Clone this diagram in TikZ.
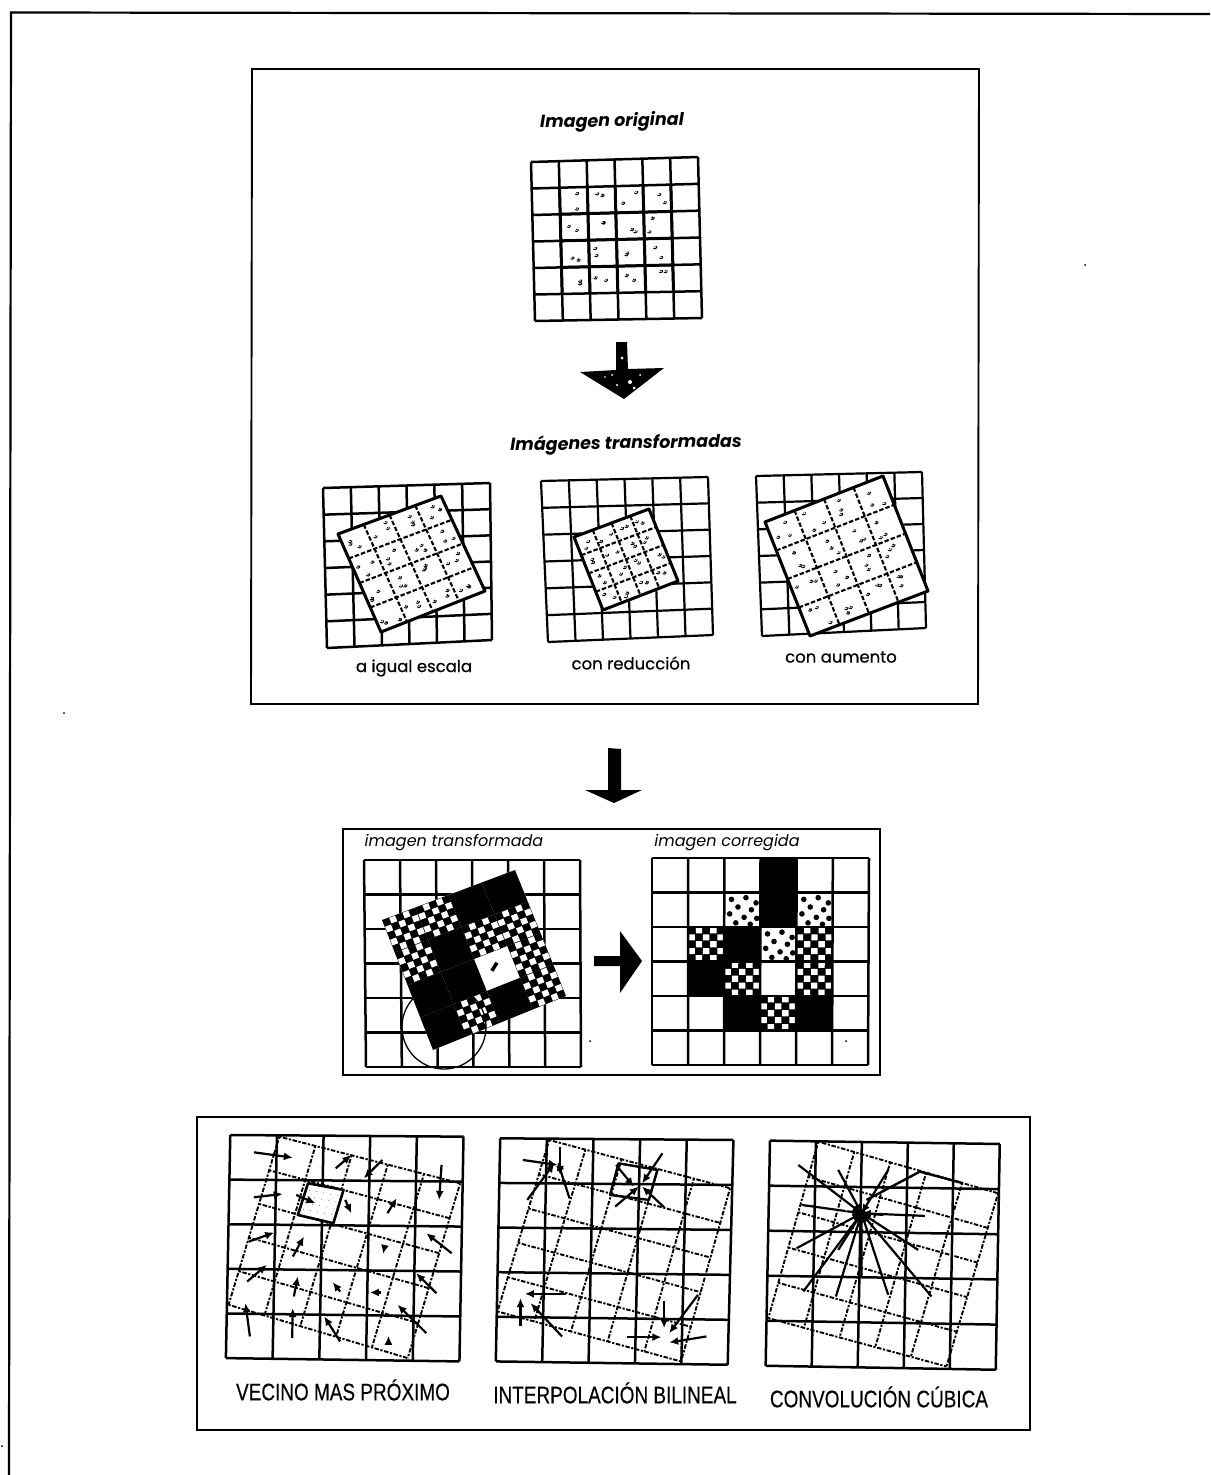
\documentclass[tikz,border=0pt]{standalone}
\usepackage{fontspec}
\setmainfont[FakeBold=0.35]{Liberation Sans}
\newfontfamily\geo[FakeBold=0.5]{Poppins}
\newfontfamily\geoplain{Poppins}
\usetikzlibrary{arrows.meta}
\tikzset{
  frameline/.style={line width=1.9pt,black},
  gridline/.style={line width=2.5pt,black},
  thingrid/.style={line width=2.2pt,black},
  dashline/.style={line width=2.1pt,black,dash pattern=on 4.5pt off 2pt},
  dotline/.style={line width=1.9pt,black,dash pattern=on 2.2pt off 1.6pt on 4.5pt off 1.6pt},
  boldedge/.style={line width=3pt,black,line join=round},
  mv/.style={line width=2.2pt,black,-{Latex[length=9pt,width=8pt]}},
  plainline/.style={line width=2.4pt,black},
  headtext/.style={font=\geoplain\bfseries\itshape\fontsize{17.5}{17.5}\selectfont,inner sep=0pt},
  subtext/.style={font=\geo\fontsize{16.5}{16.5}\selectfont,inner sep=0pt},
  italtext/.style={font=\geoplain\itshape\fontsize{16}{16}\selectfont,inner sep=0pt},
  captext/.style={font=\fontsize{24}{24}\selectfont,inner sep=0pt,xscale=.79},
}
% bilinear map of the current quadrilateral (A top left, B top right, C bottom right, D bottom left)
\def\setquad#1#2#3#4#5#6#7#8{\def\qax{#1}\def\qay{#2}\def\qbx{#3}\def\qby{#4}\def\qcx{#5}\def\qcy{#6}\def\qdx{#7}\def\qdy{#8}}
\def\Q#1#2{({(1-(#2))*((1-(#1))*\qax+(#1)*\qbx)+(#2)*((1-(#1))*\qdx+(#1)*\qcx)},{(1-(#2))*((1-(#1))*\qay+(#1)*\qby)+(#2)*((1-(#1))*\qdy+(#1)*\qcy)})}
% \netlines{cols}{rows}{style}
\newcommand{\netlines}[3]{%
  \foreach \ii in {0,...,#1}{\draw[#3] \Q{\ii/#1}{0} -- \Q{\ii/#1}{1};}%
  \foreach \jj in {0,...,#2}{\draw[#3] \Q{0}{\jj/#2} -- \Q{1}{\jj/#2};}}
% cell (c,r) of an n x n net, checker
\newcommand{\checkcell}[3]{%
  \pgfmathsetmacro{\cl}{#1/#3}\pgfmathsetmacro{\rt}{#2/#3}\pgfmathsetmacro{\st}{1/(#3*5)}%
  \fill[black] \Q{\cl}{\rt} -- \Q{\cl+5*\st}{\rt} -- \Q{\cl+5*\st}{\rt+5*\st} -- \Q{\cl}{\rt+5*\st} -- cycle;
  \foreach \pa in {0,...,4}{\foreach \pb in {0,...,4}{%
    \pgfmathparse{int(mod(\pa+\pb,2))}%
    \ifnum\pgfmathresult=1
      \fill[white] \Q{\cl+(\pa+.06)*\st}{\rt+(\pb+.06)*\st} -- \Q{\cl+(\pa+.94)*\st}{\rt+(\pb+.06)*\st} -- \Q{\cl+(\pa+.94)*\st}{\rt+(\pb+.94)*\st} -- \Q{\cl+(\pa+.06)*\st}{\rt+(\pb+.94)*\st} -- cycle;
    \fi}}}
\newcommand{\solidcell}[3]{%
  \pgfmathsetmacro{\cl}{#1/#3}\pgfmathsetmacro{\rt}{#2/#3}\pgfmathsetmacro{\st}{1/#3}%
  \fill[black] \Q{\cl}{\rt} -- \Q{\cl+\st}{\rt} -- \Q{\cl+\st}{\rt+\st} -- \Q{\cl}{\rt+\st} -- cycle;}
\newcommand{\sparsecell}[3]{%
  \pgfmathsetmacro{\cl}{#1/#3}\pgfmathsetmacro{\rt}{#2/#3}\pgfmathsetmacro{\st}{1/#3}%
  \foreach \pa/\pb in {.2/.2,.6/.15,.88/.3,.38/.42,.75/.5,.15/.62,.55/.72,.9/.75,.32/.88,.72/.92}{%
    \fill[black] \Q{\cl+\pa*\st}{\rt+\pb*\st} circle (2.8pt);}}
% speckles, cell by cell: \cellspecks{n}{first}{last}{how many in a cell}
\newcommand{\cellspecks}[4]{%
  \foreach \ci in {#2,...,#3}{\foreach \cj in {#2,...,#3}{\foreach \kk in {1,...,#4}{%
    \pgfmathsetmacro{\pu}{(\ci+.18+.64*rnd)/#1}\pgfmathsetmacro{\pv}{(\cj+.18+.64*rnd)/#1}%
    \pgfmathsetmacro{\pr}{.5+.7*rnd}%
    \fill[black] \Q{\pu}{\pv} circle (\pr pt);
    \draw[black,line width=.9pt] \Q{\pu}{\pv} ++(1.6,-.5) arc[start angle=-20,end angle=140,radius=2];}}}}

\begin{document}
\begin{tikzpicture}[x=1pt,y=-1pt]
\pgfmathsetseed{11}
\useasboundingbox (0,0) rectangle (1210,1475);
\fill[white] (0,0) rectangle (1210,1475);

% outer page lines
\draw[line width=2.2pt] (1210,14) -- (11,12.5) -- (9,1475);

% ---------- top panel
\draw[frameline] (252,69) -- (979,69) -- (978,704) -- (251,704) -- cycle;
\node[headtext,rotate=1] (torig) at (612,122) {Imagen original};

\setquad{531}{162}{698}{157}{702}{318}{535}{321}
\netlines{6}{6}{gridline}
\cellspecks{6}{1}{4}{2}
\foreach \ii in {1,...,5}{\draw[line width=3pt] \Q{\ii/6}{1/6} -- \Q{\ii/6}{5/6};}
\foreach \jj in {2,...,4}{\draw[line width=3pt] \Q{1/6}{\jj/6} -- \Q{5/6}{\jj/6};}

\fill[black] (616,342) -- (627,342) -- (628,369) -- (664,368) -- (624,399) -- (580,372) -- (616,370) -- cycle;
\foreach \a/\b/\r in {622/358/1.5,617/385/1.2,630/382/2,634/388/1.5,612/375/1,640/375/1,605/377/.8}{\fill[white] (\a,\b) circle (\r pt);}

\node[headtext,rotate=1] (ttrans) at (626,444) {Imágenes transformadas};

% three transformed images
\setquad{323}{488}{490}{483}{492}{640}{327}{648}
\netlines{6}{6}{gridline}
\setquad{338}{534}{441}{496}{485}{591}{381}{632}
\fill[white] \Q{0}{0} -- \Q{1}{0} -- \Q{1}{1} -- \Q{0}{1} -- cycle;
\cellspecks{4}{0}{3}{3}
\netlines{4}{4}{dashline}
\draw[boldedge] \Q{0}{0} -- \Q{1}{0} -- \Q{1}{1} -- \Q{0}{1} -- cycle;

\setquad{541}{481}{708}{477}{713}{635}{548}{642}
\netlines{6}{6}{thingrid}
\setquad{574}{537}{649}{509}{678}{581}{603}{610}
\fill[white] \Q{0}{0} -- \Q{1}{0} -- \Q{1}{1} -- \Q{0}{1} -- cycle;
\cellspecks{4}{0}{3}{2}
\netlines{4}{4}{dashline}
\draw[boldedge] \Q{0}{0} -- \Q{1}{0} -- \Q{1}{1} -- \Q{0}{1} -- cycle;

\setquad{756}{476}{922}{472}{926}{628}{762}{636}
\netlines{6}{6}{thingrid}
\setquad{765}{522}{883}{476}{928}{591}{810}{636}
\fill[white] \Q{0}{0} -- \Q{1}{0} -- \Q{1}{1} -- \Q{0}{1} -- cycle;
\cellspecks{4}{0}{3}{3}
\netlines{4}{4}{dashline}
\draw[boldedge] \Q{0}{0} -- \Q{1}{0} -- \Q{1}{1} -- \Q{0}{1} -- cycle;

\node[subtext] (cap1) at (414,668) {a igual escala};
\node[subtext] (cap2) at (631,663) {con reducción};
\node[subtext] (cap3) at (841,657) {con aumento};

% big arrow between panels
\fill[black] (608,748) -- (621,749) -- (621,790) -- (642,790) -- (614,803) -- (585,790) -- (608,790) -- cycle;

% ---------- middle panel
\draw[frameline] (343,829) -- (880,829) -- (880,1075) -- (343,1075) -- cycle;
\node[italtext] (tm1) at (454,843) {imagen transformada};
\node[italtext] (tm2) at (727,843) {imagen corregida};

\setquad{364}{860}{580}{860}{581}{1067}{366}{1067}
\netlines{6}{6}{gridline}
\setquad{382}{920}{515}{870}{566}{996}{433}{1050}
\fill[white] \Q{0}{0} -- \Q{1}{0} -- \Q{1}{1} -- \Q{0}{1} -- cycle;
\foreach \c/\r in {0/0,1/0,0/1,2/1,3/1,3/2,1/3,3/3}{\checkcell{\c}{\r}{4}}
\foreach \c/\r in {2/0,3/0,1/1,0/2,1/2,0/3,2/3}{\solidcell{\c}{\r}{4}}
\fill[black] \Q{.615}{.6} ++(-4,4) -- ++(5,-8) -- ++(3,2) -- ++(-5,8) -- cycle;
\draw[line width=1.3pt] (444,1027) circle (42);

\fill[black] (594,956) -- (620,956) -- (620,931) -- (642,961) -- (620,993) -- (620,966) -- (594,966) -- cycle;

\setquad{652}{858}{869}{858}{868}{1065}{652}{1065}
\foreach \c/\r in {3/0,3/1,2/2,1/3,2/4,4/4}{\solidcell{\c}{\r}{6}}
\foreach \c/\r in {2/1,4/1,3/2}{\sparsecell{\c}{\r}{6}}
\foreach \c/\r in {1/2,4/2,2/3,4/3,3/4}{\checkcell{\c}{\r}{6}}
\netlines{6}{6}{gridline}

% ---------- bottom panel
\draw[line width=2.6pt] (197,1117) -- (1030,1117) -- (1030,1430) -- (197,1430) -- cycle;

% nearest neighbour
\begin{scope}[shift={(210,1120)},xscale=.338,yscale=.333]
\setquad{60}{45}{750}{50}{738}{725}{47}{715}
\netlines{5}{5}{gridline}
\setquad{205}{50}{740}{190}{585}{715}{55}{555}
\netlines{5}{5}{dotline}
\draw[line width=2.6pt,line join=round,fill=white] (290,190) -- (395,210) -- (365,310) -- (260,285) -- cycle;
\foreach \a in {0,.2,.4,.6,.8}{\foreach \b in {.1,.3,.5,.7,.9}{%
  \fill[black] ({290+\a*(-30)+(\b)*105},{190+\a*95+(\b)*20}) circle (1.1pt);}}
\foreach \a/\b/\c/\d in {130/97/245/113,372/145/418/105,510/120/455/175,685/135/678/240,130/232/215/222,255/225/312/250,400/240/418/280,525/280/552/235,115/365/190/338,245/410/278/350,715/400/640/340,110/485/168/435,248/530/260/470,385/515/363/487,505/518/473/518,670/520/610/460,118/650/105/550,243/655/245/565,385/665/338/590,640/640/555/555}{%
  \draw[mv] (\a,\b) -- (\c,\d);}
\draw[mv] (515,388) -- (512,402);
\draw[mv] (528,670) -- (528,648);
\end{scope}
\node[captext] (cv1) at (343,1390) {VECINO MAS PRÓXIMO};

% bilinear
\begin{scope}[shift={(485,1120)},xscale=.338,yscale=.333]
\setquad{45}{55}{735}{60}{718}{735}{32}{725}
\netlines{5}{5}{gridline}
\setquad{190}{60}{725}{205}{580}{725}{37}{575}
\netlines{5}{5}{dotline}
\foreach \a/\b/\c/\d in {112/120/215/135,222/80/222/165,125/240/205/130,250/235/215/125,525/100/465/190,388/135/440/200,385/260/455/200,530/262/465/200,240/522/118/522,105/620/105/535,228/650/135/550,420/652/522/652,530/545/530/625,630/525/545/640,655/650/545/668}{%
  \draw[mv] (\a,\b) -- (\c,\d);}
\draw[plainline,line join=round] (395,130) -- (510,150) -- (485,240) -- (370,225) -- cycle;
\end{scope}
\node[captext] (cv2) at (615,1393) {INTERPOLACIÓN BILINEAL};

% cubic convolution
\begin{scope}[shift={(750,1120)},xscale=.333,yscale=.333]
\setquad{60}{62}{750}{72}{738}{750}{47}{738}
\netlines{5}{5}{gridline}
\setquad{205}{65}{745}{220}{590}{740}{55}{595}
\netlines{5}{5}{dotline}
\coordinate (cc) at (335,280);
\foreach \a/\b in {145/135,265/150,415/150,155/255,525/288,140/385,505/390,265/390,160/515,258/530,545/530,335/470,415/525,400/285}{%
  \draw[mv] (\a,\b) -- (cc);}
\draw[plainline,line join=round] (350,240) -- (510,155) -- (640,190);
\fill[black] (335,280) circle (14pt);
\fill[white] (290,268) circle (5pt);
\end{scope}
\node[captext] (cv3) at (879,1397) {CONVOLUCIÓN CÚBICA};

% specks of the print
\foreach \a/\b in {1085/265,64/713,590/1041,846/1041,2/1446}{\fill[black] (\a,\b) circle (1pt);}
\end{tikzpicture}
\end{document}
